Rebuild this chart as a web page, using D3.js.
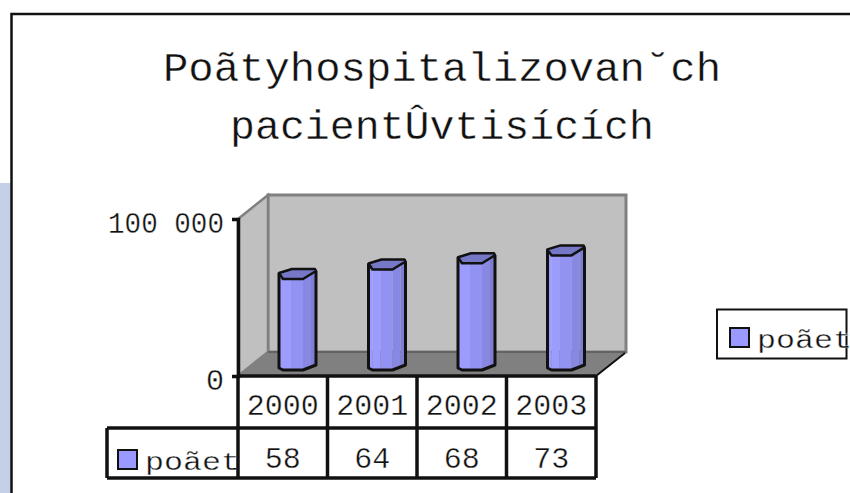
<!DOCTYPE html>
<html>
<head>
<meta charset="utf-8">
<script src="https://cdn.jsdelivr.net/npm/d3@7"></script>
<style>
html, body { margin: 0; padding: 0; background: #fff; }
svg { display: block; }
text { font-family: "Liberation Mono", monospace; fill: #111; stroke: #fff; stroke-width: 0.35; }
</style>
</head>
<body>
<div id="chart-container"></div>
<script>
var title_lines = ["Poãtyhospitalizovan˘ch", "pacientÛvtisících"];
var title_widths = [558, 424];
var years = ["2000", "2001", "2002", "2003"];
var values = [58000, 64000, 68000, 73000];
var table_values = ["58", "64", "68", "73"];
var y_ticks = [0, 100000];
var series_name = "poãet";

var svg_width = 850;
var svg_height = 493;
var depth_x = 30;
var depth_y = 24;
var bar_offset = 41;
var bar_base_lift = 6;

var svg = d3.select("#chart-container")
	.append("svg")
	.attr("width", svg_width)
	.attr("height", svg_height);

var x = d3.scaleBand()
	.domain(years)
	.range([238, 596]);

var y = d3.scaleLinear()
	.domain([0, 100000])
	.range([376, 219]);

// slide background and chart frame
svg.append("rect").attr("x", 0).attr("y", 183).attr("width", 11).attr("height", 310).attr("fill", "#c5d0e8");
svg.append("path").attr("d", "M11.5,493V14H850").attr("fill", "#fff").attr("stroke", "#111").attr("stroke-width", 2.5);

svg.selectAll(".title")
	.data(title_lines)
	.enter().append("text")
	.attr("class", "title")
	.attr("x", 442)
	.attr("y", function(d, i) { return 81 + i * 58; })
	.attr("text-anchor", "middle")
	.attr("font-size", 40)
	.attr("textLength", function(d, i) { return title_widths[i]; })
	.attr("lengthAdjust", "spacingAndGlyphs")
	.text(function(d) { return d; });

// 3d walls
var x0 = x.range()[0], x1 = x.range()[1];
var y0 = y(0), y1 = y(100000);

svg.append("polygon")
	.attr("points", [[x0 + depth_x, y1 - depth_y], [x1 + depth_x, y1 - depth_y], [x1 + depth_x, y0 - depth_y], [x0 + depth_x, y0 - depth_y]].join(" "))
	.attr("fill", "#c0c0c0").attr("stroke", "#808080").attr("stroke-width", 3);
svg.append("polygon")
	.attr("points", [[x0, y1], [x0 + depth_x, y1 - depth_y], [x0 + depth_x, y0 - depth_y], [x0, y0]].join(" "))
	.attr("fill", "#c0c0c0").attr("stroke", "#808080").attr("stroke-width", 2.5);
svg.append("polygon")
	.attr("points", [[x0, y0], [x0 + depth_x, y0 - depth_y], [x1 + depth_x, y0 - depth_y], [x1, y0]].join(" "))
	.attr("fill", "#808080");
svg.append("line")
	.attr("x1", x0 + depth_x).attr("x2", x1 + depth_x).attr("y1", y0 - depth_y).attr("y2", y0 - depth_y)
	.attr("stroke", "#5a5a5a").attr("stroke-width", 1.5);
svg.append("line")
	.attr("x1", x1).attr("y1", y0).attr("x2", x1 + depth_x - 1).attr("y2", y0 - depth_y + 1)
	.attr("stroke", "#111").attr("stroke-width", 2);

// hexagonal bars
var bars = svg.selectAll(".bar")
	.data(values)
	.enter().append("g")
	.attr("class", "bar")
	.attr("transform", function(d, i) {
		return "translate(" + (x(years[i]) + bar_offset) + ",0)";
	});

function bar_top(d) { return y(d) - bar_base_lift; }
function bar_bottom() { return y(0) - bar_base_lift; }

function facet(x_a, x_b, drop_a, drop_b, low_a, low_b) {
	return function(d) {
		var t = bar_top(d), b = bar_bottom();
		return [[x_a, t + drop_a], [x_b, t + drop_b], [x_b, b + low_b], [x_a, b + low_a]].join(" ");
	};
}

bars.append("polygon").attr("points", facet(0, 4, -6, 0, -2, 0)).attr("fill", "#9c9cff");
bars.append("polygon").attr("points", facet(4, 12, 0, 0, 0, 0)).attr("fill", "#9c9cff");
bars.append("polygon").attr("points", facet(12, 24, 0, 0, 0, 0)).attr("fill", "#9292f2");
bars.append("polygon").attr("points", facet(24, 32, 0, -4, 0, -2.5)).attr("fill", "#8888e2");
bars.append("polygon").attr("points", facet(32, 37, -4, -8, -2.5, -5)).attr("fill", "#7e7ed2");

// outline
bars.append("path")
	.attr("d", function(d) {
		var t = bar_top(d), b = bar_bottom();
		return "M0," + (t - 6) + "V" + (b - 2) + "L4," + b + "H24L37," + (b - 5) + "V" + (t - 8);
	})
	.attr("fill", "none").attr("stroke", "#111").attr("stroke-width", 3).attr("stroke-linejoin", "round");

// cap
bars.append("polygon")
	.attr("points", function(d) {
		var t = bar_top(d);
		return [[0, t - 6], [13, t - 10], [36, t - 10], [37, t - 8], [24, t], [4, t]].join(" ");
	})
	.attr("fill", "#7777c8").attr("stroke", "#111").attr("stroke-width", 2.5).attr("stroke-linejoin", "round");

// value axis
var axis = d3.axisLeft(y)
	.tickValues(y_ticks)
	.tickSize(6)
	.tickPadding(8)
	.tickFormat(function(d) { return d3.format(",")(d).replace(",", " "); });

var axis_g = svg.append("g")
	.attr("transform", "translate(" + x0 + ",0)")
	.call(axis);
axis_g.select(".domain").attr("stroke", "#111").attr("stroke-width", 3.5);
axis_g.selectAll(".tick line").attr("stroke", "#111").attr("stroke-width", 2.5);
axis_g.selectAll(".tick text")
	.attr("font-size", 30)
	.attr("font-family", "Liberation Mono")
	.attr("fill", "#111")
	.attr("dy", "13.5px")
	.each(function(d) {
		if (d > 0) d3.select(this).attr("textLength", 116).attr("lengthAdjust", "spacingAndGlyphs");
	});

// data table
var row_top = y0, row_mid = 428, row_bottom = 478, table_left = 107;
var table_g = svg.append("g");

table_g.selectAll(".year")
	.data(years)
	.enter().append("text")
	.attr("x", function(d) { return x(d) + x.bandwidth() / 2; })
	.attr("y", 415)
	.attr("text-anchor", "middle")
	.attr("font-size", 30)
	.text(function(d) { return d; });

table_g.selectAll(".val")
	.data(table_values)
	.enter().append("text")
	.attr("x", function(d, i) { return x(years[i]) + x.bandwidth() / 2; })
	.attr("y", 468)
	.attr("text-anchor", "middle")
	.attr("font-size", 30)
	.text(function(d) { return d; });

function legend_entry(sel, sx, sy, tx, ty) {
	sel.append("rect")
		.attr("x", sx).attr("y", sy).attr("width", 19).attr("height", 19)
		.attr("fill", "#9999ff").attr("stroke", "#111").attr("stroke-width", 2);
	sel.append("text")
		.attr("x", tx).attr("y", ty)
		.attr("font-size", 26)
		.attr("textLength", 95)
		.attr("lengthAdjust", "spacingAndGlyphs")
		.text(series_name);
}

legend_entry(table_g, 118, 450, 145, 470);

var table_lines = table_g.append("g")
	.attr("stroke", "#111").attr("stroke-width", 3.5).attr("fill", "none");
table_lines.append("line").attr("x1", x0).attr("x2", x1).attr("y1", row_top).attr("y2", row_top);
table_lines.append("line").attr("x1", table_left).attr("x2", x1).attr("y1", row_mid).attr("y2", row_mid);
table_lines.append("line").attr("x1", table_left).attr("x2", x1).attr("y1", row_bottom).attr("y2", row_bottom);
table_lines.append("line").attr("x1", table_left).attr("x2", table_left).attr("y1", row_mid).attr("y2", row_bottom);
table_lines.selectAll(".col")
	.data(years.concat(["end"]))
	.enter().append("line")
	.attr("x1", function(d, i) { return x0 + i * x.step(); })
	.attr("x2", function(d, i) { return x0 + i * x.step(); })
	.attr("y1", row_top)
	.attr("y2", row_bottom);

// side legend
var legend_g = svg.append("g");
legend_g.append("rect")
	.attr("x", 717).attr("y", 309.5).attr("width", 129.5).attr("height", 49)
	.attr("fill", "#fff").attr("stroke", "#111").attr("stroke-width", 2);
legend_entry(legend_g, 730, 328, 757, 348);
</script>
</body>
</html>
